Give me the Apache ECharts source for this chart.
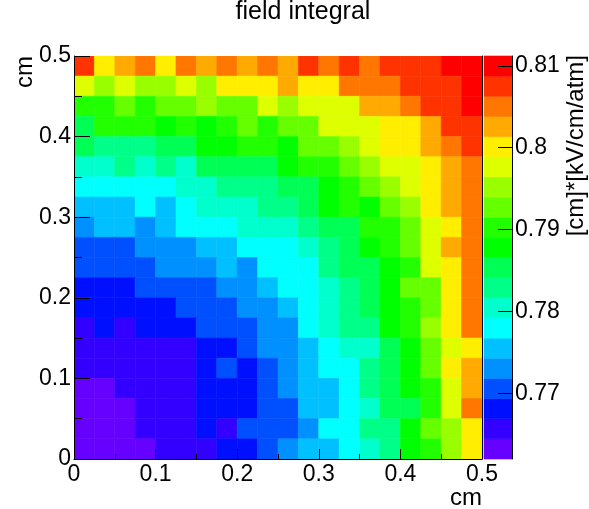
<!DOCTYPE html>
<html><head><meta charset="utf-8">
<script src="https://cdn.jsdelivr.net/npm/echarts@6/dist/echarts.min.js"></script>
<style>html,body{margin:0;padding:0;background:#fff}#c{width:589px;height:509px}</style>
</head><body><div id="c"></div>
<script>
// bin centres (cm)
const xCenters = [0.0125,0.0375,0.0625,0.0875,0.1125,0.1375,0.1625,0.1875,0.2125,0.2375,0.2625,0.2875,0.3125,0.3375,0.3625,0.3875,0.4125,0.4375,0.4625,0.4875];
const yCenters = [0.4875,0.4625,0.4375,0.4125,0.3875,0.3625,0.3375,0.3125,0.2875,0.2625,0.2375,0.2125,0.1875,0.1625,0.1375,0.1125,0.0875,0.0625,0.0375,0.0125];
// field integral values, one row per y bin (top row first)
const zRows = [
 [.8075,.8001,.8026,.8051,.8001,.8051,.8026,.8051,.8026,.8051,.8026,.8075,.8051,.8075,.8051,.8075,.8075,.8075,.8100,.8100],
 [.7977,.7952,.7977,.7952,.7952,.7977,.7952,.8001,.8001,.8001,.8026,.8001,.8001,.8051,.8051,.8051,.8075,.8075,.8075,.8100],
 [.7903,.7903,.7928,.7903,.7928,.7928,.7952,.7928,.7928,.7977,.7952,.7977,.7977,.7977,.8026,.8026,.8051,.8075,.8075,.8100],
 [.7854,.7903,.7903,.7903,.7878,.7903,.7878,.7903,.7928,.7903,.7928,.7928,.7977,.7977,.7977,.8001,.8001,.8026,.8075,.8075],
 [.7854,.7829,.7829,.7829,.7854,.7854,.7878,.7878,.7903,.7903,.7878,.7928,.7928,.7952,.7977,.8001,.8001,.8026,.8051,.8075],
 [.7805,.7805,.7829,.7805,.7829,.7805,.7854,.7854,.7854,.7854,.7878,.7903,.7903,.7928,.7952,.7977,.7977,.8001,.8026,.8051],
 [.7780,.7780,.7780,.7780,.7780,.7805,.7805,.7829,.7829,.7829,.7854,.7854,.7878,.7903,.7928,.7952,.7977,.8001,.8026,.8051],
 [.7755,.7755,.7755,.7780,.7755,.7780,.7805,.7805,.7805,.7829,.7829,.7854,.7878,.7903,.7878,.7928,.7952,.8001,.8026,.8051],
 [.7731,.7755,.7755,.7731,.7755,.7780,.7780,.7780,.7805,.7805,.7805,.7829,.7854,.7854,.7903,.7903,.7928,.7977,.8001,.8051],
 [.7706,.7706,.7706,.7731,.7731,.7731,.7755,.7755,.7780,.7780,.7780,.7805,.7829,.7854,.7878,.7903,.7928,.7977,.8026,.8051],
 [.7706,.7706,.7706,.7706,.7731,.7731,.7731,.7755,.7731,.7780,.7780,.7780,.7829,.7854,.7854,.7878,.7903,.7977,.8001,.8051],
 [.7682,.7682,.7682,.7706,.7706,.7706,.7706,.7731,.7731,.7755,.7780,.7780,.7805,.7829,.7854,.7878,.7928,.7928,.8001,.8051],
 [.7682,.7682,.7682,.7682,.7682,.7706,.7706,.7706,.7731,.7731,.7755,.7780,.7805,.7829,.7854,.7878,.7903,.7928,.8001,.8051],
 [.7657,.7682,.7657,.7682,.7682,.7682,.7706,.7706,.7706,.7731,.7731,.7780,.7805,.7829,.7829,.7878,.7903,.7952,.8001,.8051],
 [.7657,.7657,.7657,.7657,.7657,.7657,.7682,.7682,.7706,.7731,.7731,.7755,.7780,.7805,.7805,.7854,.7878,.7928,.7977,.8001],
 [.7657,.7657,.7657,.7657,.7657,.7657,.7682,.7706,.7682,.7706,.7731,.7755,.7780,.7780,.7829,.7854,.7878,.7928,.8001,.8026],
 [.7632,.7632,.7657,.7657,.7657,.7657,.7682,.7682,.7682,.7706,.7731,.7755,.7755,.7780,.7829,.7854,.7878,.7903,.7977,.8026],
 [.7632,.7632,.7632,.7657,.7657,.7657,.7682,.7682,.7682,.7706,.7706,.7755,.7755,.7780,.7805,.7854,.7854,.7903,.7977,.8051],
 [.7632,.7632,.7632,.7657,.7657,.7657,.7682,.7657,.7706,.7706,.7706,.7731,.7780,.7780,.7829,.7829,.7878,.7928,.7952,.8001],
 [.7632,.7632,.7632,.7632,.7657,.7657,.7657,.7682,.7682,.7706,.7731,.7755,.7755,.7780,.7805,.7829,.7878,.7903,.7952,.8001]
];
const zMin = 0.7620, zMax = 0.8112;
const zTickValues = [0.77, 0.78, 0.79, 0.80, 0.81];
const palette = ['#6600ff','#3300ff','#0010ff','#0050ff','#0090ff','#00c0ff','#00ffff','#00ffcc','#00ff88','#00ff55',
                 '#00ff00','#22ff00','#66ff00','#99ff00','#ddff00','#ffee00','#ffaa00','#ff7700','#ff3300','#ff0000'];

const FONT = 'Liberation Sans, Arial, sans-serif';
const binW = xCenters[1] - xCenters[0];
const cells = [];
zRows.forEach((row, r) => row.forEach((z, c) => cells.push([xCenters[c], yCenters[r], z])));
const nLev = palette.length;
const step = (zMax - zMin) / nLev;
const pieces = palette.map((col, k) => ({ gte: zMin + k * step, lt: zMin + (k + 1) * step, color: col }));
const barData = palette.map((col, k) => [zMin + k * step, zMin + (k + 1) * step, k]);

const chart = echarts.init(document.getElementById('c'), null, { renderer: 'canvas' });
chart.setOption({
  animation: false,
  backgroundColor: '#fff',
  grid: [
    { left: 74, top: 56, width: 408, height: 403 },
    { left: 484, top: 56, width: 28, height: 403 }
  ],
  xAxis: [
    { type: 'value', gridIndex: 0, min: 0, max: 0.5, interval: 0.1, z: 10,
      axisLine: { show: true, onZero: false, lineStyle: { color: '#000', width: 1 } },
      axisTick: { show: true, inside: true, length: 10, lineStyle: { color: '#000' } },
      minorTick: { show: true, splitNumber: 2, length: 5, lineStyle: { color: '#000' } },
      splitLine: { show: false }, minorSplitLine: { show: false },
      axisLabel: { fontSize: 23, color: '#000', fontFamily: FONT, margin: 4, showMinLabel: true, showMaxLabel: true } },
    { type: 'value', gridIndex: 1, min: 0, max: 1, show: false }
  ],
  yAxis: [
    { type: 'value', gridIndex: 0, min: 0, max: 0.5, interval: 0.1, z: 10,
      axisLine: { show: true, onZero: false, lineStyle: { color: '#000', width: 1 } },
      axisTick: { show: true, inside: true, length: 16, lineStyle: { color: '#000' } },
      minorTick: { show: true, splitNumber: 2, length: 8, lineStyle: { color: '#000' } },
      splitLine: { show: false }, minorSplitLine: { show: false },
      axisLabel: { fontSize: 23, color: '#000', fontFamily: FONT, margin: 3, showMinLabel: true, showMaxLabel: true } },
    { type: 'value', gridIndex: 1, min: zMin, max: zMax, position: 'right', z: 10,
      axisLine: { show: true, onZero: false, lineStyle: { color: '#000', width: 1 } },
      axisTick: { show: true, inside: true, length: 14, customValues: zTickValues, lineStyle: { color: '#000' } },
      splitLine: { show: false },
      axisLabel: { fontSize: 23, color: '#000', fontFamily: FONT, margin: 3, customValues: zTickValues,
                   formatter: v => String(Math.round(v * 100) / 100) } },
    { type: 'value', gridIndex: 0, min: 0, max: 0.5, position: 'right', z: 10,
      axisLine: { show: true, onZero: false, lineStyle: { color: '#000', width: 1 } },
      axisTick: { show: false }, axisLabel: { show: false }, splitLine: { show: false } }
  ],
  visualMap: { type: 'piecewise', show: false, seriesIndex: 0, dimension: 2, pieces: pieces },
  series: [
    { type: 'custom', xAxisIndex: 0, yAxisIndex: 0, data: cells, clip: true,
      encode: { x: 0, y: 1 },
      renderItem: function (params, api) {
        const p = api.coord([api.value(0) - binW / 2, api.value(1) + binW / 2]);
        const s = api.size([binW, binW]);
        const col = api.visual('color');
        return { type: 'rect', shape: { x: p[0], y: p[1], width: s[0], height: s[1] },
                 style: { fill: col, stroke: col, lineWidth: 0.6 } };
      } },
    { type: 'custom', xAxisIndex: 1, yAxisIndex: 1, data: barData, encode: { x: 2, y: 0 },
      renderItem: function (params, api) {
        const p0 = api.coord([0, api.value(1)]);
        const p1 = api.coord([1, api.value(0)]);
        const col = palette[api.value(2)];
        return { type: 'rect', shape: { x: p0[0], y: p0[1], width: p1[0] - p0[0], height: p1[1] - p0[1] },
                 style: { fill: col, stroke: col, lineWidth: 0.6 } };
      } }
  ],
  graphic: [
    { type: 'text', x: 303, y: 12, style: { text: 'field integral', font: '25px ' + FONT, fill: '#000', align: 'center', verticalAlign: 'middle' } },
    { type: 'text', x: 25, y: 56, rotation: Math.PI / 2, style: { text: 'cm', font: '24px ' + FONT, fill: '#000', align: 'right', verticalAlign: 'middle' } },
    { type: 'text', x: 482, y: 498, style: { text: 'cm', font: '24px ' + FONT, fill: '#000', align: 'right', verticalAlign: 'middle' } },
    { type: 'text', x: 576, y: 55, rotation: Math.PI / 2, style: { text: '[cm]*[kV/cm/atm]', font: '24px ' + FONT, fill: '#000', align: 'right', verticalAlign: 'middle' } }
  ]
});
</script>
</body></html>
